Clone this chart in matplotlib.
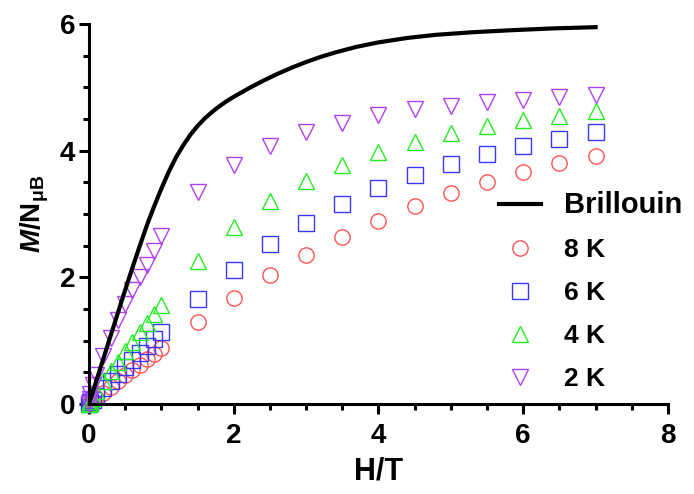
import numpy as np
import matplotlib
matplotlib.use("Agg")
import matplotlib.pyplot as plt
import matplotlib.ticker as ticker

plt.rcParams['font.family'] = ['Liberation Sans', 'DejaVu Sans']
plt.rcParams['font.weight'] = 'bold'
plt.rcParams['mathtext.fontset'] = 'custom'
plt.rcParams['mathtext.rm'] = 'Liberation Sans:bold'
plt.rcParams['mathtext.it'] = 'Liberation Sans:bold:italic'
plt.rcParams['mathtext.bf'] = 'Liberation Sans:bold'

# field values (T)
H = [0, 0.01, 0.02, 0.05, 0.1, 0.2, 0.3, 0.4, 0.5, 0.6, 0.7, 0.8, 0.9, 1.0,
     1.5, 2.0, 2.5, 3.0, 3.5, 4.0, 4.5, 5.0, 5.5, 6.0, 6.5, 7.0]

m_8K = [0, 0.01, 0.02, 0.05, 0.09, 0.18, 0.27, 0.36, 0.45, 0.54, 0.62, 0.71, 0.79, 0.88,
        1.30, 1.67, 2.03, 2.36, 2.64, 2.89, 3.13, 3.33, 3.51, 3.66, 3.81, 3.92]
m_6K = [0, 0.01, 0.03, 0.06, 0.13, 0.25, 0.36, 0.47, 0.59, 0.70, 0.81, 0.92, 1.03, 1.13,
        1.66, 2.12, 2.52, 2.86, 3.16, 3.41, 3.61, 3.79, 3.94, 4.07, 4.19, 4.29]
m_4K = [0, 0.02, 0.04, 0.09, 0.20, 0.36, 0.52, 0.67, 0.83, 0.98, 1.13, 1.28, 1.42, 1.56,
        2.26, 2.79, 3.20, 3.52, 3.78, 3.98, 4.14, 4.28, 4.39, 4.48, 4.55, 4.62]
m_2K = [0, 0.08, 0.15, 0.30, 0.45, 0.75, 1.04, 1.33, 1.58, 1.80, 2.00, 2.20, 2.42, 2.66,
        3.34, 3.78, 4.08, 4.29, 4.44, 4.56, 4.66, 4.71, 4.77, 4.80, 4.84, 4.88]

# Brillouin curve
H_bri = [0, 0.2, 0.4, 0.5, 0.6, 0.7, 0.8, 0.9, 1.0, 1.1, 1.2, 1.3, 1.4, 1.5, 1.6, 1.7,
         1.8, 1.9, 2.0, 2.2, 2.4, 2.6, 2.8, 3.0, 3.2, 3.4, 3.7, 4.0, 4.4, 4.8, 5.3,
         5.8, 6.4, 7.0]
m_bri = [0, 0.72, 1.44, 1.80, 2.15, 2.49, 2.82, 3.12, 3.40, 3.66, 3.89, 4.08, 4.25,
         4.39, 4.51, 4.61, 4.70, 4.78, 4.85, 4.98, 5.10, 5.21, 5.31, 5.40, 5.48, 5.55,
         5.64, 5.71, 5.78, 5.83, 5.87, 5.90, 5.93, 5.95]

series = [("8 K", m_8K, "o", "#ff5252"),
          ("6 K", m_6K, "s", "#3838ff"),
          ("4 K", m_4K, "^", "#22ee22"),
          ("2 K", m_2K, "v", "#b040f0")]

fig = plt.figure(figsize=(6.94, 4.94), dpi=100)
ax = fig.add_axes([0.1282, 0.1822, 0.8343, 0.7692])

ax.plot(H_bri, m_bri, color="black", lw=3, label="Brillouin", zorder=3)
for lab, m, mk, c in series:
    ax.plot(H, m, linestyle="none", marker=mk, ms=11, mfc="none", mec=c,
            mew=1.0, label=lab, clip_on=False)

ax.set_xlim(0, 8)
ax.set_ylim(0, 6)
ax.spines["top"].set_visible(False)
ax.spines["right"].set_visible(False)
for s in ["left", "bottom"]:
    ax.spines[s].set_linewidth(2.2)
ax.xaxis.set_major_locator(ticker.MultipleLocator(2))
ax.xaxis.set_minor_locator(ticker.MultipleLocator(0.5))
ax.yaxis.set_major_locator(ticker.MultipleLocator(2))
ax.yaxis.set_minor_locator(ticker.MultipleLocator(0.5))
ax.tick_params(which="major", length=7, width=2.2, labelsize=20)
ax.tick_params(which="minor", length=4, width=2.2)
ax.tick_params(axis="x", which="major", pad=7)
ax.tick_params(axis="y", which="major", pad=3)
for t in ax.get_xticklabels() + ax.get_yticklabels():
    t.set_fontweight("bold")

ax.set_xlabel("H/T", fontsize=22, fontweight="bold", labelpad=5)
ax.set_ylabel(r"$M$/N$_{\mathrm{\mu B}}$", fontsize=20, fontweight="bold", labelpad=6)

leg = ax.legend(loc="upper left", bbox_to_anchor=(0.69, 0.588), frameon=False,
                fontsize=19, handlelength=1.6, handletextpad=0.85, labelspacing=0.72,
                borderaxespad=0)
for t in leg.get_texts():
    t.set_fontweight("bold")
leg.get_texts()[0].set_fontsize(21)

fig.savefig("out.png", dpi=100)
